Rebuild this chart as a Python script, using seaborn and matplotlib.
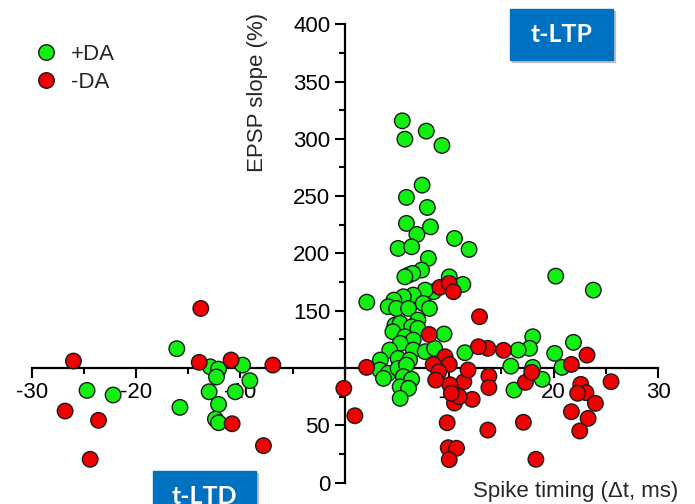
import pandas as pd
import seaborn as sns
import matplotlib.pyplot as plt
from matplotlib.patches import Rectangle

# +DA (green) points: spike timing (ms), EPSP slope (%)
da_plus_x = [-16.1, -12.9, -12.1, -9.8, -12.3, -9.1, -24.7, -22.2, -13.0, -10.5, -12.1, -15.8, -12.4, -12.1,
             20.2, 23.8, 21.9, 20.1, 20.8, 18.0, 17.7, 16.6, 15.9, 18.0, 18.9, 16.2, 11.5, 9.5,
             2.1, 5.5, 5.75, 7.8, 9.3, 7.4, 5.9, 7.9, 5.9, 8.2, 6.9, 10.5, 5.1, 6.4, 11.9, 8.0,
             7.35, 6.1, 6.5, 5.75, 10.0, 11.3, 8.5, 7.7, 6.55, 5.6, 4.7, 4.15, 7.5, 4.95, 6.1,
             8.1, 7.0, 4.8, 5.3, 6.4, 7.0, 4.6, 5.75, 6.55, 5.3, 4.3, 6.55, 5.1, 3.4, 7.7, 8.6,
             6.2, 3.35, 4.15, 5.1, 5.9, 3.7, 5.6, 6.4, 5.3, 6.1, 5.3]
da_plus_y = [116.9, 101.1, 99.1, 102.6, 92.2, 89.0, 80.5, 76.5, 79.3, 79.3, 68.3, 65.7, 55.5, 52.3,
             180.2, 168.0, 122.4, 112.8, 100.6, 127.3, 117.2, 115.7, 101.7, 100.6, 90.2, 80.8, 113.4, 129.7,
             157.5, 315.7, 299.7, 306.7, 294.2, 259.6, 248.9, 240.1, 226.2, 223.2, 216.6, 213.1, 204.4, 205.8, 203.5, 195.7,
             185.5, 181.1, 182.6, 179.6, 179.6, 173.0, 166.6, 168.0, 163.7, 162.2, 159.3, 153.5, 156.4, 152.0, 152.0,
             152.0, 141.9, 137.5, 139.0, 136.0, 134.6, 131.7, 127.3, 124.4, 121.5, 115.7, 115.7, 108.4, 107.0, 114.3, 117.2,
             107.0, 98.3, 95.4, 99.7, 102.6, 91.0, 92.5, 90.2, 83.7, 82.3, 73.6]

# -DA (red) points
da_minus_x = [-26.0, -13.8, -13.95, -10.9, -6.9, -26.8, -23.6, -24.4, -10.8, -7.8, -0.1, 0.96, 2.08,
              23.2, 21.7, 25.5, 22.6, 23.1, 22.3, 24.0, 21.7, 23.3, 22.5, 18.3, 17.1, 17.3, 17.9,
              15.2, 13.7, 12.8, 12.9, 13.8, 13.8, 13.7, 12.2, 11.4, 11.8, 10.5, 10.06, 10.95, 10.2,
              9.8, 9.9, 10.7, 10.0, 9.6, 8.46, 10.0, 9.0, 8.7, 8.08, 9.1, 10.0, 10.4]
da_minus_y = [106.1, 152.0, 105.0, 107.0, 102.6, 62.5, 54.4, 20.4, 51.4, 32.3, 82.3, 58.4, 100.6,
              111.3, 103.2, 88.1, 85.8, 78.5, 78.0, 69.2, 61.9, 56.1, 45.1, 20.4, 52.7, 87.5, 96.3,
              115.5, 117.2, 118.6, 144.8, 93.0, 83.0, 45.9, 72.7, 88.1, 98.3, 69.5, 85.5, 75.0, 78.0,
              52.3, 30.5, 30.0, 20.1, 109.9, 103.2, 103.2, 96.8, 89.5, 129.3, 170.4, 173.9, 166.6]

x_ticks = [-30, -20, -10, 0, 10, 20, 30]
x_tick_labels = ['-30', '-20', '-10', '', '10', '20', '30']
y_ticks = [0, 50, 100, 150, 200, 250, 300, 350, 400]
y_tick_labels = ['0', '50', '', '150', '200', '250', '300', '350', '400']

df = pd.DataFrame({
    'dt': da_plus_x + da_minus_x,
    'epsp': da_plus_y + da_minus_y,
    'cond': ['+DA'] * len(da_plus_x) + ['-DA'] * len(da_minus_x),
})

sns.set_theme(style='ticks')
plt.rcParams['font.family'] = ['Liberation Sans', 'DejaVu Sans']

fig = plt.figure(figsize=(6.95, 5.04), dpi=100)
ax = fig.add_axes([0.0456, 0.0423, 0.9012, 0.9097])

sns.scatterplot(data=df, x='dt', y='epsp', hue='cond',
                palette={'+DA': '#11F011', '-DA': '#F00000'},
                s=125, edgecolor='#1a1a1a', linewidth=1.0, zorder=3, ax=ax)

ax.set_xlim(-30, 30)
ax.set_ylim(0, 400)
ax.spines['left'].set_position(('data', 0))
ax.spines['bottom'].set_position(('data', 100))
ax.spines['top'].set_visible(False)
ax.spines['right'].set_visible(False)
for sp in ['left', 'bottom']:
    ax.spines[sp].set_linewidth(1.6)
    ax.spines[sp].set_color('black')

ax.set_xticks(x_ticks)
ax.set_xticklabels(x_tick_labels)
ax.set_xticks([-25, -15, -5, 5, 15, 25], minor=True)
ax.set_yticks(y_ticks)
ax.set_yticklabels(y_tick_labels)
ax.set_yticks([25, 75, 125, 175, 225, 275, 325, 375], minor=True)
ax.tick_params(which='major', length=7, width=1.5, labelsize=16, color='black', labelcolor='black')
ax.tick_params(which='minor', length=4, width=1.5, color='black')
ax.tick_params(axis='x', which='major', pad=3)
ax.set_xlabel('')
ax.set_ylabel('')

sns.move_legend(ax, 'upper left', bbox_to_anchor=(0.005, 0.952), bbox_transform=fig.transFigure,
                frameon=False, title=None, fontsize=16, handletextpad=0.15, labelspacing=0.3,
                markerscale=1.0)

fig.text(258 / 695, 1 - 92 / 504, 'EPSP slope (%)', rotation=90, ha='center', va='center', fontsize=16)
fig.text(576 / 695, 1 - 491 / 504, 'Spike timing (\u0394t, ms)', ha='center', va='center', fontsize=16)

# blue labels
for (x0, y0, label) in [(510, 9, 't-LTP'), (153, 471, 't-LTD')]:
    w, h = 103, 51
    fig.patches.append(Rectangle(((x0 + 2) / 695, 1 - (y0 + h + 2) / 504), w / 695, h / 504,
                                 transform=fig.transFigure, color='#9a9a9a', alpha=0.5, zorder=0))
    fig.patches.append(Rectangle((x0 / 695, 1 - (y0 + h) / 504), w / 695, h / 504,
                                 transform=fig.transFigure, color='#0070C0', zorder=1))
    fig.text((x0 + w / 2) / 695, 1 - (y0 + h / 2) / 504, label, color='white', ha='center', va='center',
             fontsize=18, fontweight='bold', family=['Lato', 'DejaVu Sans'])

fig.savefig('out.png', dpi=100)
